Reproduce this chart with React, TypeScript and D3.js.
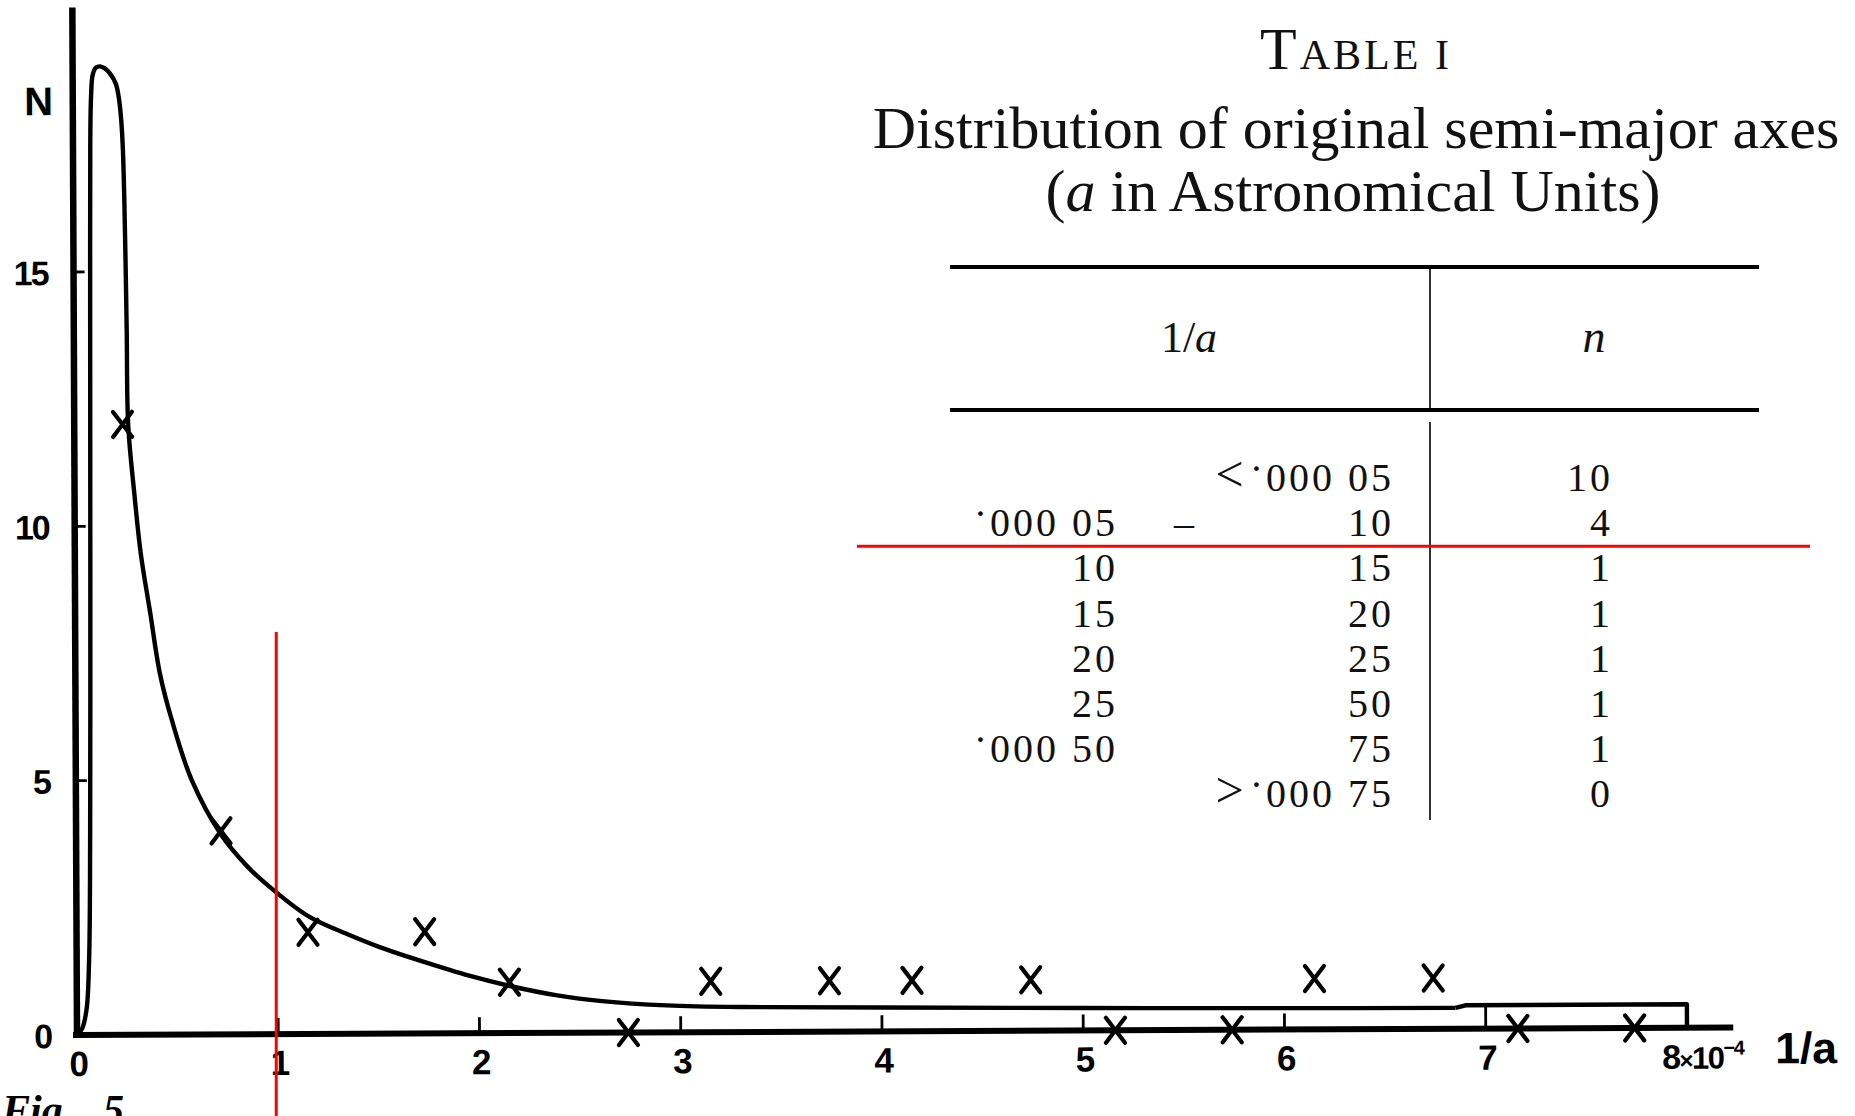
import React from "react";
import * as d3 from "d3";

const W = 1855;
const H = 1116;

// Plotted crosses: 1/a in units of 1e-4 (AU^-1) and number of comets N
const crossX = [0.24, 0.72, 1.15, 1.73, 2.15, 2.74, 3.15, 3.74, 4.15, 4.74, 5.16, 5.74, 6.15, 6.74, 7.16, 7.74];
const crossN = [12, 4, 2, 2, 1, 0, 1, 1, 1, 1, 0, 0, 1, 1, 0, 0];

// Smooth distribution curve drawn through the crosses
const curveX = [
  0, 0.025, 0.048, 0.062, 0.07, 0.076, 0.08, 0.083, 0.086, 0.091, 0.1, 0.117, 0.136, 0.16, 0.185,
  0.214, 0.229, 0.24, 0.248, 0.254, 0.259, 0.263, 0.268, 0.298, 0.328, 0.373, 0.42, 0.477, 0.576,
  0.72, 0.85, 0.974, 1.158, 1.35, 1.506, 1.73, 1.95, 2.147, 2.395, 2.61, 2.93, 3.3, 4, 5, 6, 6.85,
];
const curveN = [
  0, 0.12, 0.5, 1.5, 4, 8.5, 12.5, 15.5, 17.5, 18.45, 18.88, 19.02, 19.04, 19.0, 18.9,
  18.7, 18.42, 18.0, 17.4, 16.4, 15.1, 13.8, 12.0, 10.6, 9.45, 8.3, 7.1, 6.2, 5.0,
  3.93, 3.3, 2.85, 2.3, 1.95, 1.7, 1.4, 1.13, 0.93, 0.73, 0.62, 0.53, 0.49, 0.47, 0.44, 0.42, 0.41,
];
// Last bin, drawn as a box from 7 to 8
const lastBinX = [6.9, 8, 8];
const lastBinN = [0.46, 0.46, 0];

const xTicks = [1, 2, 3, 4, 5, 6, 7];
const xTickLabels = ["0", "1", "2", "3", "4", "5", "6", "7"];
const yTicks = [5, 10, 15];
const yTickLabels = ["0", "5", "10", "15"];

// Table I: ranges of 1/a and counts n (leading mark is the decimal point)
const tableLoSign = ["", "", "", "", "", "", "", ""];
const tableLoDot = [false, true, false, false, false, false, true, false];
const tableLo = ["", "000 05", "10", "15", "20", "25", "000 50", ""];
const tableHiSign = ["<", "", "", "", "", "", "", ">"];
const tableHiDot = [true, false, false, false, false, false, false, true];
const tableHi = ["000 05", "10", "15", "20", "25", "50", "75", "000 75"];
const tableN = ["10", "4", "1", "1", "1", "1", "1", "0"];

const SANS = "'Liberation Sans', Arial, sans-serif";
const SERIF = "'Liberation Serif', 'Times New Roman', serif";

function Entry({
  x,
  y,
  sign,
  dot,
  value,
}: {
  x: number;
  y: number;
  sign: string;
  dot: boolean;
  value: string;
}) {
  return (
    <text x={x} y={y} textAnchor="end" fontSize={40} letterSpacing={3}>
      {sign && (
        <tspan fontSize={50} letterSpacing={6}>
          {sign}
        </tspan>
      )}
      {dot && <tspan dy={-9}>·</tspan>}
      {dot ? <tspan dy={9}>{value}</tspan> : value}
    </text>
  );
}

export default function App() {
  const x = d3.scaleLinear().domain([0, 8]).range([77, 1687]);
  const y = d3.scaleLinear().domain([0, 15]).range([1035, 272]);
  const x0 = x(0);
  const y0 = y(0);

  const smooth = d3
    .line<[number, number]>()
    .x((d) => d[0])
    .y((d) => d[1])
    .curve(d3.curveCatmullRom.alpha(0.5));
  const straight = d3
    .line<[number, number]>()
    .x((d) => d[0])
    .y((d) => d[1]);

  const curvePts: [number, number][] = curveX.map((v, i) => [x(v), y(curveN[i])]);
  const boxPts: [number, number][] = [
    [x(curveX[curveX.length - 1]), y(curveN[curveN.length - 1])],
    ...lastBinX.map((v, i) => [x(v), y(lastBinN[i])] as [number, number]),
  ];

  const crossPath = "M-9.5,-12.5L9.5,12.5M9.5,-12.5L-9.5,12.5";

  // table layout
  const cx = 1356;
  const rowY = (i: number) => 491 + i * 45.2;
  const loRight = 1118;
  const hiRight = 1394;
  const nRight = 1613;
  const divX = 1430;

  return (
    <div
      style={{
        position: "fixed",
        left: 0,
        top: 0,
        width: W,
        height: H,
        overflow: "hidden",
        background: "#fff",
      }}
    >
      <svg width={W} height={H} viewBox={`0 0 ${W} ${H}`} style={{ display: "block" }}>
        <rect width={W} height={H} fill="#fff" />

        {/* Figure */}
        <g transform={`rotate(-0.26 ${x0} ${y0})`}>
          {/* axes */}
          <line x1={x0} y1={y0 + 3} x2={x0} y2={y(20.2)} stroke="#000" strokeWidth={6.5} />
          <line x1={x0 - 4} y1={y0} x2={x(8.23)} y2={y0} stroke="#000" strokeWidth={6} />

          {/* y ticks */}
          {yTicks.map((t) => (
            <line key={t} x1={x0} x2={x0 + 11} y1={y(t)} y2={y(t)} stroke="#000" strokeWidth={2.8} />
          ))}
          {/* x ticks */}
          {xTicks.map((t) => (
            <line
              key={t}
              x1={x(t)}
              x2={x(t)}
              y1={y0}
              y2={t === 7 ? y(lastBinN[0]) : y0 - 16}
              stroke="#000"
              strokeWidth={2.8}
            />
          ))}

          {/* y tick labels */}
          {yTickLabels.map((l) => (
            <text
              key={l}
              x={51}
              y={y(+l) + 1}
              textAnchor="end"
              dominantBaseline="central"
              fontFamily={SANS}
              fontWeight="bold"
              fontSize={34}
              letterSpacing={-2}
              fill="#000"
            >
              {l}
            </text>
          ))}
          <text x={43} y={115} textAnchor="middle" fontFamily={SANS} fontWeight="bold" fontSize={40} fill="#000">
            N
          </text>

          {/* x tick labels */}
          {xTickLabels.map((l) => (
            <text
              key={l}
              x={x(+l) + 2}
              y={y0 + 41}
              textAnchor="middle"
              fontFamily={SANS}
              fontWeight="bold"
              fontSize={35}
              fill="#000"
            >
              {l}
            </text>
          ))}
          <text x={x(8) - 25} y={y0 + 41} fontFamily={SANS} fontWeight="bold" fill="#000" letterSpacing={-1.5}>
            <tspan fontSize={34}>8</tspan>
            <tspan fontSize={24}>×</tspan>
            <tspan fontSize={31}>10</tspan>
            <tspan fontSize={20} dy={-14}>
              −4
            </tspan>
          </text>
          <text
            x={1775}
            y={y0 + 36}
            fontFamily={SANS}
            fontWeight="bold"
            fontSize={44}
            fill="#000"
            textLength={62}
            lengthAdjust="spacingAndGlyphs"
          >
            1/a
          </text>

          {/* distribution curve */}
          <path d={smooth(curvePts) || ""} fill="none" stroke="#000" strokeWidth={4.4} strokeLinejoin="round" />
          <path d={straight(boxPts) || ""} fill="none" stroke="#000" strokeWidth={4.4} strokeLinejoin="round" />

          {/* crosses */}
          {crossX.map((v, i) => (
            <path
              key={i}
              d={crossPath}
              transform={`translate(${x(v)},${y(crossN[i])})`}
              fill="none"
              stroke="#000"
              strokeWidth={4.2}
              strokeLinecap="round"
            />
          ))}
        </g>

        <text x={2} y={1124} fontFamily={SERIF} fontWeight="bold" fontStyle="italic" fontSize={42} fill="#000">
          Fig.
          <tspan x={103}>5</tspan>
        </text>

        {/* Table */}
        <g fontFamily={SERIF} fill="#111">
          <text x={cx} y={69} textAnchor="middle" letterSpacing={3}>
            <tspan fontSize={60}>T</tspan>
            <tspan fontSize={42}>ABLE I</tspan>
          </text>
          <text x={cx} y={148} textAnchor="middle" fontSize={60}>
            Distribution of original semi-major axes
          </text>
          <text x={cx - 3} y={211} textAnchor="middle" fontSize={60}>
            (<tspan fontStyle="italic">a</tspan> in Astronomical Units)
          </text>

          <line x1={950} x2={1759} y1={267} y2={267} stroke="#000" strokeWidth={4} />
          <line x1={950} x2={1759} y1={410} y2={410} stroke="#000" strokeWidth={4} />
          <line x1={divX} x2={divX} y1={269} y2={410} stroke="#000" strokeWidth={1.6} />
          <line x1={divX} x2={divX} y1={422} y2={820} stroke="#000" strokeWidth={1.6} />

          <text x={1189} y={352} textAnchor="middle" fontSize={44}>
            1/<tspan fontStyle="italic">a</tspan>
          </text>
          <text x={1594} y={352} textAnchor="middle" fontSize={46} fontStyle="italic">
            n
          </text>

          {tableHi.map((hi, i) => (
            <g key={i}>
              {tableLo[i] && (
                <Entry x={loRight} y={rowY(i)} sign={tableLoSign[i]} dot={tableLoDot[i]} value={tableLo[i]} />
              )}
              {i === 1 && (
                <text x={1184} y={rowY(i)} textAnchor="middle" fontSize={40}>
                  –
                </text>
              )}
              <Entry x={hiRight} y={rowY(i)} sign={tableHiSign[i]} dot={tableHiDot[i]} value={hi} />
              <text x={nRight} y={rowY(i)} textAnchor="end" fontSize={40} letterSpacing={3}>
                {tableN[i]}
              </text>
            </g>
          ))}
        </g>

        {/* red guide lines */}
        <line x1={x(1) - 2} x2={x(1) - 2} y1={632} y2={H} stroke="#ff0000" strokeWidth={3} />
        <line x1={857} x2={1810} y1={rowY(1) + 10} y2={rowY(1) + 10} stroke="#ff0000" strokeWidth={3} />
      </svg>
    </div>
  );
}
